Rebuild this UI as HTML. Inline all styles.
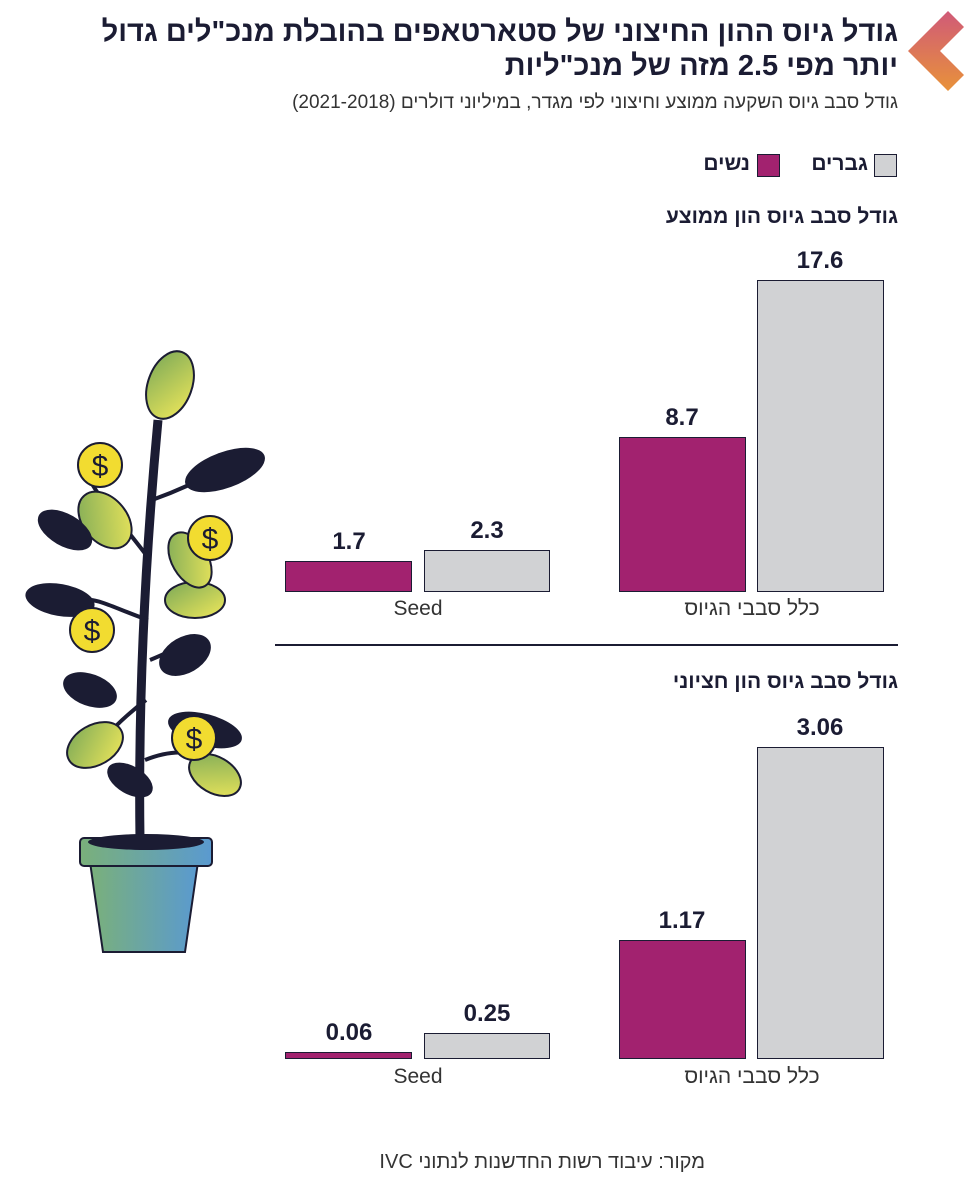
<!DOCTYPE html>
<html><head><meta charset="utf-8">
<style>
body{margin:0;width:964px;height:1200px;background:#fff;overflow:hidden;position:relative;font-family:"Liberation Sans","Noto Sans CJK SC",sans-serif;color:#1b1c33}
.t{position:absolute;direction:rtl;white-space:nowrap}
.bar{position:absolute;box-sizing:border-box;border:1.5px solid #1b1c33}
.w{background:#a2226f}.m{background:#d1d2d4}
.v{position:absolute;font-weight:bold;font-size:24px;text-align:center;width:126px}
.lab{position:absolute;font-size:21px;text-align:center;width:264px;color:#333}
</style></head><body>
<svg style="position:absolute;left:906px;top:11px" width="58" height="80" viewBox="0 0 58 80">
<defs><linearGradient id="lg" x1="0" y1="0" x2="0" y2="1"><stop offset="0" stop-color="#d05a78"/><stop offset="1" stop-color="#e8923a"/></linearGradient></defs>
<polygon points="42,0 58,16 34,40 58,64 42,80 2,40" fill="url(#lg)"/></svg>
<div class="t" style="right:66px;top:15px;font-size:29px;font-weight:bold;line-height:34px;text-align:right">גודל גיוס ההון החיצוני של סטארטאפים בהובלת מנכ"לים גדול<br>יותר מפי 2.5 מזה של מנכ"ליות</div>
<div class="t" style="right:66px;top:92px;font-size:19px;color:#333">גודל סבב גיוס השקעה ממוצע וחיצוני לפי מגדר, במיליוני דולרים (2021-2018)</div>
<div class="bar m" style="left:874px;top:154px;width:23px;height:23px"></div>
<div class="t" style="right:96px;top:152px;font-size:21px;font-weight:bold">גברים</div>
<div class="bar w" style="left:757px;top:154px;width:23px;height:23px"></div>
<div class="t" style="right:214px;top:152px;font-size:21px;font-weight:bold">נשים</div>
<div class="t" style="right:66px;top:205px;font-size:21px;font-weight:bold">גודל סבב גיוס הון ממוצע</div>
<div class="t" style="right:66px;top:670px;font-size:21px;font-weight:bold">גודל סבב גיוס הון חציוני</div>
<div style="position:absolute;left:275px;top:644px;width:623px;height:2px;background:#1b1c33"></div>

<div class="bar w" style="left:285px;top:561px;width:127px;height:31px"></div>
<div class="bar m" style="left:424px;top:550px;width:126px;height:42px"></div>
<div class="bar w" style="left:619px;top:437px;width:127px;height:155px"></div>
<div class="bar m" style="left:757px;top:280px;width:127px;height:312px"></div>
<div class="v" style="left:286px;top:528px">1.7</div>
<div class="v" style="left:424px;top:517px">2.3</div>
<div class="v" style="left:619px;top:404px">8.7</div>
<div class="v" style="left:757px;top:247px">17.6</div>
<div class="lab" style="left:286px;top:597px">Seed</div>
<div class="lab" style="left:620px;top:597px;direction:rtl">כלל סבבי הגיוס</div>

<div class="bar w" style="left:285px;top:1052px;width:127px;height:7px"></div>
<div class="bar m" style="left:424px;top:1033px;width:126px;height:26px"></div>
<div class="bar w" style="left:619px;top:940px;width:127px;height:119px"></div>
<div class="bar m" style="left:757px;top:747px;width:127px;height:312px"></div>
<div class="v" style="left:286px;top:1019px">0.06</div>
<div class="v" style="left:424px;top:1000px">0.25</div>
<div class="v" style="left:619px;top:907px">1.17</div>
<div class="v" style="left:757px;top:714px">3.06</div>
<div class="lab" style="left:286px;top:1065px">Seed</div>
<div class="lab" style="left:620px;top:1065px;direction:rtl">כלל סבבי הגיוס</div>

<div class="t" style="right:259px;top:1151px;font-size:20px;color:#333">מקור: עיבוד רשות החדשנות לנתוני IVC</div>

<svg style="position:absolute;left:20px;top:350px" width="260" height="610" viewBox="20 350 260 610">
<defs>
<linearGradient id="pot" x1="0" x2="1"><stop offset="0" stop-color="#7ab07a"/><stop offset="1" stop-color="#5a9ad0"/></linearGradient>
<linearGradient id="leaf" x1="0" y1="0" x2="1" y2="1"><stop offset="0" stop-color="#7aa858"/><stop offset="1" stop-color="#f0e85a"/></linearGradient>
</defs>
<g stroke="#1b1c33" stroke-width="2">
<path d="M140,840 C138,700 145,560 158,420" fill="none" stroke-width="9"/>
<path d="M150,560 C120,520 100,500 90,480 M148,620 C120,610 100,600 90,600 M152,500 C180,490 200,480 220,470 M146,700 C120,720 100,740 90,760 M150,660 C175,650 190,640 200,640 M145,760 C170,750 190,750 210,760" fill="none" stroke-width="4"/>
<ellipse cx="170" cy="385" rx="22" ry="35" fill="url(#leaf)" transform="rotate(20 170 385)"/>
<ellipse cx="105" cy="520" rx="22" ry="32" fill="url(#leaf)" transform="rotate(-40 105 520)"/>
<ellipse cx="195" cy="600" rx="30" ry="18" fill="url(#leaf)"/>
<ellipse cx="95" cy="745" rx="30" ry="20" fill="url(#leaf)" transform="rotate(-30 95 745)"/>
<ellipse cx="215" cy="775" rx="28" ry="18" fill="url(#leaf)" transform="rotate(30 215 775)"/>
<ellipse cx="190" cy="560" rx="18" ry="30" fill="url(#leaf)" transform="rotate(-30 190 560)"/>
</g>
<g fill="#1b1c33">
<ellipse cx="225" cy="470" rx="42" ry="18" transform="rotate(-20 225 470)"/>
<ellipse cx="65" cy="530" rx="30" ry="16" transform="rotate(30 65 530)"/>
<ellipse cx="60" cy="600" rx="35" ry="16" transform="rotate(10 60 600)"/>
<ellipse cx="185" cy="655" rx="28" ry="18" transform="rotate(-30 185 655)"/>
<ellipse cx="90" cy="690" rx="28" ry="16" transform="rotate(20 90 690)"/>
<ellipse cx="205" cy="730" rx="38" ry="16" transform="rotate(15 205 730)"/>
<ellipse cx="130" cy="780" rx="25" ry="14" transform="rotate(30 130 780)"/>
</g>
<g fill="#f2dc30" stroke="#1b1c33" stroke-width="2" font-size="30" font-family="Liberation Sans">
<circle cx="100" cy="465" r="22"/><text x="100" y="476" text-anchor="middle" fill="#1b1c33" stroke="none">$</text>
<circle cx="210" cy="538" r="22"/><text x="210" y="549" text-anchor="middle" fill="#1b1c33" stroke="none">$</text>
<circle cx="92" cy="630" r="22"/><text x="92" y="641" text-anchor="middle" fill="#1b1c33" stroke="none">$</text>
<circle cx="194" cy="738" r="22"/><text x="194" y="749" text-anchor="middle" fill="#1b1c33" stroke="none">$</text>
</g>
<path d="M90,862 L198,862 L185,952 L103,952 Z" fill="url(#pot)" stroke="#1b1c33" stroke-width="2"/>
<rect x="80" y="838" width="132" height="28" rx="4" fill="url(#pot)" stroke="#1b1c33" stroke-width="2"/>
<ellipse cx="146" cy="842" rx="58" ry="8" fill="#1b1c33"/>
</svg>
</body></html>
